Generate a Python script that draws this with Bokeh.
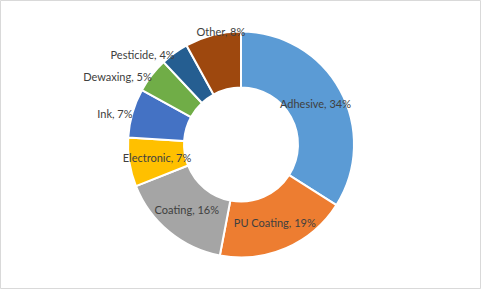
import math
from bokeh.plotting import figure
from bokeh.models import Range1d, ColumnDataSource
from bokeh.core.properties import value
from bokeh.embed import file_html
from bokeh.resources import INLINE

# ---- data ----
categories = ["Adhesive", "PU Coating", "Coating", "Electronic", "Ink", "Dewaxing", "Pesticide", "Other"]
shares = [34, 19, 16, 7, 7, 5, 4, 8]
colors = ["#5B9BD5", "#ED7D31", "#A5A5A5", "#FFC000", "#4472C4", "#70AD47", "#255E91", "#9E480E"]

# ---- layout (not data) ----
label_outside = [False, False, False, False, True, True, True, True]
outer_r = 113
inner_r = 57

total = sum(shares)
starts, ends, mids = [], [], []
cum = 0.0
for s in shares:
    a0 = cum / total
    cum += s
    a1 = cum / total
    starts.append(math.pi / 2 - 2 * math.pi * a0)
    ends.append(math.pi / 2 - 2 * math.pi * a1)
    mids.append(math.pi / 2 - 2 * math.pi * (a0 + a1) / 2)

src = ColumnDataSource(dict(start=starts, end=ends, color=colors))

p = figure(width=481, height=289, output_backend="svg", toolbar_location=None,
           x_range=Range1d(-240.5, 240.5), y_range=Range1d(-145, 144),
           min_border=0)
p.axis.visible = False
p.grid.visible = False
p.outline_line_color = "#D9D9D9"
p.outline_line_width = 1
p.background_fill_color = "white"
p.border_fill_color = "white"

p.annular_wedge(x=0, y=0, inner_radius=inner_r, outer_radius=outer_r,
                start_angle="start", end_angle="end", direction="clock",
                fill_color="color", line_color="white", line_width=2, source=src)

lx, ly, ltxt, lalign, lbase, lxo, lyo = [], [], [], [], [], [], []
for i, (c, s) in enumerate(zip(categories, shares)):
    m = mids[i]
    txt = f"{c}, {s}%"
    if label_outside[i]:
        r = outer_r
        x, y = r * math.cos(m), r * math.sin(m)
        if math.sin(m) > 0.9:
            lalign.append("center"); lbase.append("middle"); lxo.append(8); lyo.append(-4)
        else:
            lalign.append("right"); lbase.append("middle"); lxo.append(0); lyo.append(1)
    else:
        r = (inner_r + outer_r) / 2
        x, y = r * math.cos(m), r * math.sin(m)
        lalign.append("center"); lbase.append("middle"); lxo.append(0); lyo.append(0)
    lx.append(x); ly.append(y); ltxt.append(txt)

lsrc = ColumnDataSource(dict(x=lx, y=ly, text=ltxt, align=lalign, base=lbase, xo=lxo, yo=lyo))
p.text(x="x", y="y", text="text", text_align="align", text_baseline="base",
       x_offset="xo", y_offset="yo", source=lsrc, text_font=value("Lato"),
       text_font_size="11px", text_color="#404040")

open("out.html", "w").write(file_html(p, INLINE))
